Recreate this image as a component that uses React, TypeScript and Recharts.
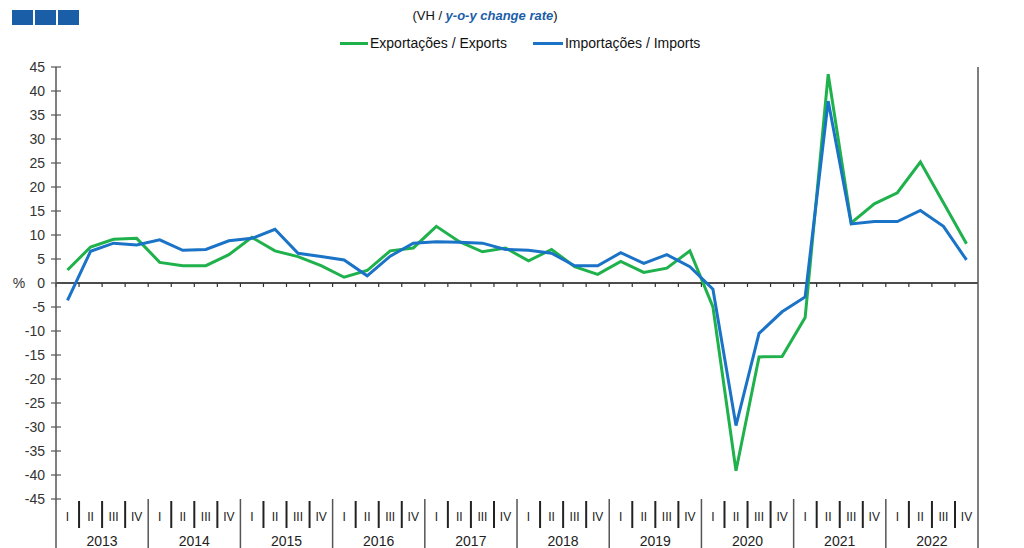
import React from 'react';
import { LineChart, Line, XAxis, YAxis, ReferenceLine } from 'recharts';

const years = ['2013', '2014', '2015', '2016', '2017', '2018', '2019', '2020', '2021', '2022'];
const quarters = ['I', 'II', 'III', 'IV'];

// y-o-y change rate, %, quarterly 2013 I .. 2022 IV
const exportsRate = [
  2.7, 7.5, 9.1, 9.3,
  4.3, 3.6, 3.6, 5.9,
  9.5, 6.7, 5.5, 3.6,
  1.2, 2.6, 6.7, 7.3,
  11.8, 8.6, 6.5, 7.3,
  4.6, 7.0, 3.4, 1.8,
  4.5, 2.2, 3.1, 6.7,
  -5.0, -39.1, -15.4, -15.3,
  -7.2, 43.5, 12.5, 16.5,
  18.8, 25.2, 16.7, 8.2,
];
const importsRate = [
  -3.6, 6.6, 8.3, 7.9,
  9.0, 6.8, 7.0, 8.8,
  9.3, 11.2, 6.2, 5.5,
  4.8, 1.5, 5.6, 8.3,
  8.6, 8.5, 8.3, 7.0,
  6.8, 6.2, 3.6, 3.6,
  6.3, 4.1, 5.9, 3.4,
  -1.3, -29.7, -10.5, -6.0,
  -2.9, 37.9, 12.3, 12.8,
  12.8, 15.1, 11.8, 4.8,
];
const yTicks = [-45, -40, -35, -30, -25, -20, -15, -10, -5, 0, 5, 10, 15, 20, 25, 30, 35, 40, 45];

const data = years.flatMap((y, yi) =>
  quarters.map((q, qi) => ({
    key: `${y}-${q}`,
    exp: exportsRate[yi * 4 + qi],
    imp: importsRate[yi * 4 + qi],
  }))
);

const GREEN = '#1fb14c';
const BLUE = '#1a73c6';
const AXIS = '#555';
const FONT = '"Liberation Sans", Arial, sans-serif';
const HALF = 11.5; // half a quarter band

const QuarterTick = (props: any) => {
  const { x, y, payload, index } = props;
  const [yr, q] = String(payload.value).split('-');
  const qi = quarters.indexOf(q);
  const left = x - HALF;
  return (
    <g>
      {qi === 0 ? (
        <line x1={left} x2={left} y1={y} y2={y + 49} stroke={AXIS} strokeWidth={1.5} />
      ) : (
        <line x1={left} x2={left} y1={y + 2} y2={y + 29} stroke="#222" strokeWidth={2} />
      )}
      {index === data.length - 1 && (
        <line x1={x + HALF} x2={x + HALF} y1={y} y2={y + 49} stroke={AXIS} strokeWidth={1.5} />
      )}
      <text x={x} y={y + 18} textAnchor="middle" dominantBaseline="central" fontSize={12} fill="#222" fontFamily={FONT}>
        {q}
      </text>
      {qi === 1 && (
        <text x={x + HALF} y={y + 42} textAnchor="middle" dominantBaseline="central" fontSize={14} fill="#222" fontFamily={FONT}>
          {yr}
        </text>
      )}
    </g>
  );
};

const LeftTick = (props: any) => {
  const { x, y, payload } = props;
  return (
    <g>
      <line x1={x - 5} x2={x + 5} y1={y} y2={y} stroke={AXIS} strokeWidth={1.2} />
      <text x={x - 11} y={y} textAnchor="end" dominantBaseline="central" fontSize={14} fill="#333" fontFamily={FONT}>
        {payload.value}
      </text>
      {payload.value === 0 && (
        <text x={19} y={y} textAnchor="middle" dominantBaseline="central" fontSize={14} fill="#333" fontFamily={FONT}>
          %
        </text>
      )}
    </g>
  );
};

const RightTick = (props: any) => {
  const { x, y, payload } = props;
  return (
    <g>
      <line x1={x - 5} x2={x + 5} y1={y} y2={y} stroke={AXIS} strokeWidth={1.2} />
      <text x={x + 9} y={y} textAnchor="start" dominantBaseline="central" fontSize={14} fill="#333" fontFamily={FONT}>
        {payload.value}
      </text>
      {payload.value === 0 && (
        <text x={x + 36} y={y} textAnchor="middle" dominantBaseline="central" fontSize={14} fill="#333" fontFamily={FONT}>
          %
        </text>
      )}
    </g>
  );
};

// zero line with small marks between quarters
const ZeroLine = (props: any) => {
  const { x1, x2, y1 } = props;
  const step = (x2 - x1) / data.length;
  return (
    <g>
      <line x1={x1} x2={x2} y1={y1} y2={y1} stroke="#111" strokeWidth={1.5} />
      {data.map((_, i) => (
        <line key={i} x1={x1 + i * step} x2={x1 + i * step} y1={y1} y2={y1 + 4} stroke="#333" strokeWidth={1.2} />
      ))}
    </g>
  );
};

export default function App() {
  return (
    <div style={{ position: 'absolute', left: 0, top: 0, width: 1024, height: 548, background: '#fff', fontFamily: FONT }}>
      <div style={{ position: 'absolute', left: 12, top: 10, display: 'flex', gap: 2 }}>
        {[0, 1, 2].map((i) => (
          <div key={i} style={{ width: 21, height: 15, background: '#1b5ea8' }} />
        ))}
      </div>
      <div style={{ position: 'absolute', left: 0, width: 970, top: 8, textAlign: 'center', fontSize: 13, color: '#111' }}>
        (VH / <span style={{ color: '#1b5ea8', fontWeight: 'bold', fontStyle: 'italic' }}>y-o-y change rate</span>)
      </div>
      <div style={{ position: 'absolute', left: 340, top: 35, display: 'flex', alignItems: 'center', fontSize: 14, color: '#111' }}>
        <span style={{ display: 'inline-block', width: 28, height: 3, background: GREEN, marginRight: 2 }} />
        <span>Exportações / Exports</span>
        <span style={{ display: 'inline-block', width: 30, height: 3, background: BLUE, marginLeft: 26, marginRight: 2 }} />
        <span>Importações / Imports</span>
      </div>
      <LineChart width={1024} height={548} data={data} margin={{ top: 67, right: 0, bottom: 0, left: 0 }}>
        <XAxis
          dataKey="key"
          interval={0}
          height={49}
          padding={{ left: HALF, right: HALF }}
          axisLine={false}
          tickLine={false}
          tickSize={0}
          tickMargin={0}
          tick={<QuarterTick />}
        />
        <YAxis
          yAxisId="left"
          domain={[-45, 45]}
          ticks={yTicks}
          width={56}
          interval={0}
          axisLine={{ stroke: AXIS, strokeWidth: 1.5 }}
          tickLine={false}
          tickSize={0}
          tickMargin={0}
          tick={<LeftTick />}
        />
        <YAxis
          yAxisId="right"
          orientation="right"
          domain={[-45, 45]}
          ticks={yTicks}
          width={46}
          interval={0}
          axisLine={{ stroke: AXIS, strokeWidth: 1.5 }}
          tickLine={false}
          tickSize={0}
          tickMargin={0}
          tick={<RightTick />}
        />
        <ReferenceLine yAxisId="left" y={0} shape={<ZeroLine />} />
        <Line yAxisId="left" dataKey="exp" type="linear" stroke={GREEN} strokeWidth={3} dot={false} isAnimationActive={false} />
        <Line yAxisId="left" dataKey="imp" type="linear" stroke={BLUE} strokeWidth={3} dot={false} isAnimationActive={false} />
      </LineChart>
    </div>
  );
}
